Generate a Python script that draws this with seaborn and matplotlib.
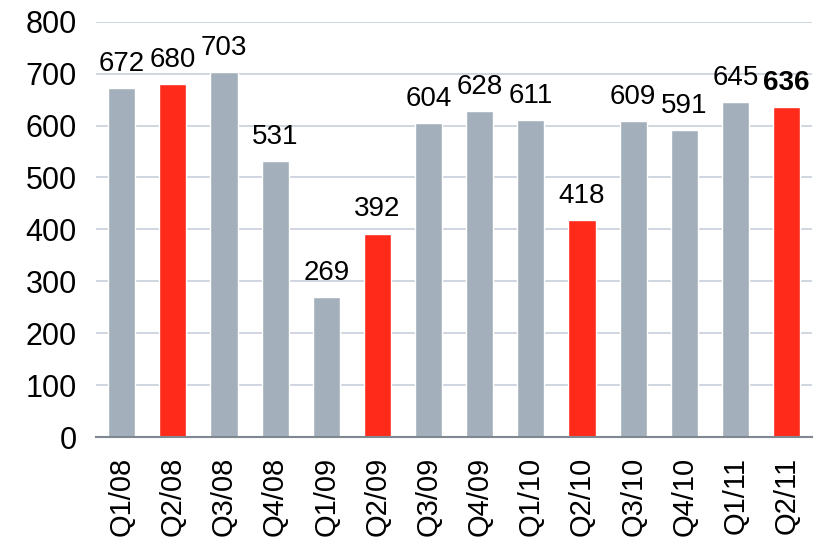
import matplotlib
matplotlib.use("Agg")
import matplotlib.pyplot as plt
import seaborn as sns
import pandas as pd

quarters = ["Q1/08", "Q2/08", "Q3/08", "Q4/08", "Q1/09", "Q2/09", "Q3/09",
            "Q4/09", "Q1/10", "Q2/10", "Q3/10", "Q4/10", "Q1/11", "Q2/11"]
values = [672, 680, 703, 531, 269, 392, 604, 628, 611, 418, 609, 591, 645, 636]
highlight = [False, True, False, False, False, True, False,
             False, False, True, False, False, False, True]

GRAY = "#A3B0BB"
RED = "#FF2A1A"

df = pd.DataFrame({"quarter": quarters, "value": values})
palette = [RED if h else GRAY for h in highlight]

sns.set_theme(style="white")
plt.rcParams["font.family"] = ["Liberation Sans", "DejaVu Sans"]
plt.rcParams["text.color"] = "black"
plt.rcParams["xtick.color"] = "black"
plt.rcParams["ytick.color"] = "black"

fig, ax = plt.subplots(figsize=(8.28, 5.43), dpi=100)
fig.subplots_adjust(left=0.116, right=0.981, top=0.96, bottom=0.195)

sns.barplot(data=df, x="quarter", y="value", hue="quarter", palette=palette,
            legend=False, width=0.53, saturation=1, ax=ax)

ax.set_ylim(0, 800)
ax.set_yticks(range(0, 801, 100))
ax.set_xlim(-0.5, len(quarters) - 0.5)
ax.yaxis.grid(True, color="#C8D0DA", linewidth=1.2)
ax.set_axisbelow(True)
for side in ["left", "right", "top"]:
    ax.spines[side].set_visible(False)
ax.spines["bottom"].set_color("#7F8891")
ax.spines["bottom"].set_linewidth(1.5)

ax.set_xlabel("")
ax.set_ylabel("")
ax.tick_params(axis="x", labelrotation=90, labelsize=21, length=0, pad=14)
ax.tick_params(axis="y", labelsize=22, length=0, pad=14)

for i, v in enumerate(values):
    ax.annotate(str(v), (i, v), xytext=(0, 8), textcoords="offset points",
                ha="center", va="bottom", fontsize=20, color="black",
                fontweight="bold" if i == len(values) - 1 else "normal")

fig.savefig("out.png", dpi=100)
